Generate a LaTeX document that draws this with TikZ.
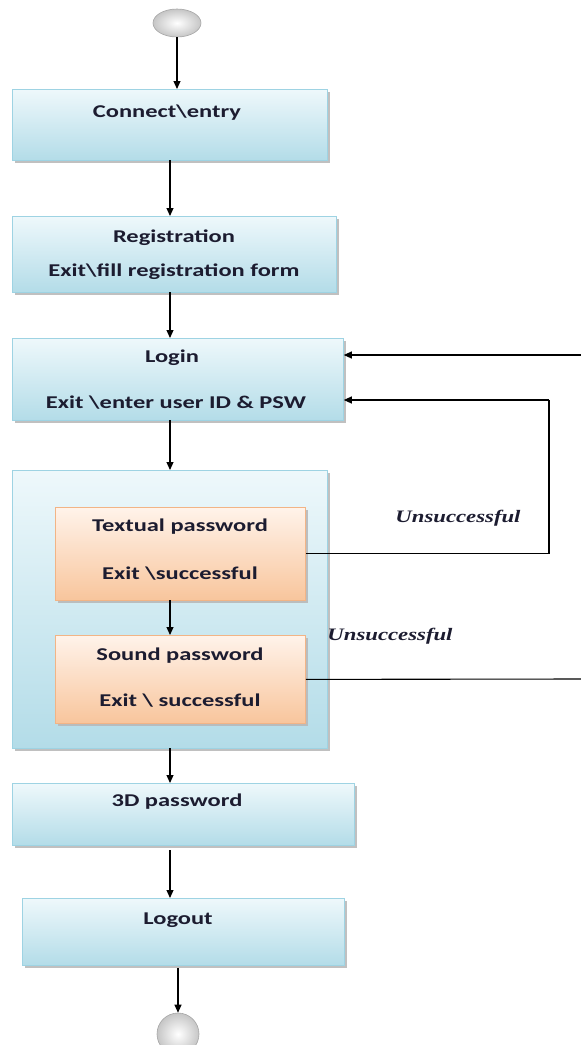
\documentclass[tikz,border=0pt]{standalone}
\usepackage{fontspec}
\setmainfont{Carlito}
\newfontfamily\boxfont{Carlito}[FakeStretch=1.36]
\newfontfamily\unsfont{Liberation Serif}[FakeStretch=1.3]
\usetikzlibrary{arrows.meta,shadows,calc,shapes.geometric}
\definecolor{bluetop}{HTML}{EEF8FB}
\definecolor{bluebot}{HTML}{B3DCE8}
\definecolor{blueedge}{HTML}{9ED3E3}
\definecolor{orgtop}{HTML}{FFF3EA}
\definecolor{orgbot}{HTML}{F8C59C}
\definecolor{orgedge}{HTML}{F2B486}
\definecolor{txt}{HTML}{1C1C30}
\tikzset{
  bluebox/.style={draw=blueedge, line width=0.8pt, top color=bluetop, bottom color=bluebot,
    anchor=north west, inner sep=0pt,
    drop shadow={shadow xshift=2.5pt, shadow yshift=-2.5pt, fill=gray!55, opacity=0.9}},
  orgbox/.style={draw=orgedge, line width=0.8pt, top color=orgtop, bottom color=orgbot,
    anchor=north west, inner sep=0pt,
    drop shadow={shadow xshift=2.5pt, shadow yshift=-2.5pt, fill=gray!55, opacity=0.9}},
  lbl/.style={font=\boxfont\bfseries\fontsize{18}{20}\selectfont, text=txt, inner sep=0pt},
  unsucc/.style={font=\unsfont\bfseries\itshape\fontsize{17.5}{19}\selectfont, text=txt, inner sep=0pt},
  arr/.style={line width=1.1pt, -{Triangle[length=8pt,width=7pt]}},
  ln/.style={line width=1.1pt},
  term/.style={draw=gray!70, line width=0.6pt, inner color=white, outer color=gray!45, inner sep=0pt}
}
\begin{document}
\begin{tikzpicture}[x=1pt,y=-1pt]
\useasboundingbox (0,0) rectangle (581,1045);
% terminals
\node[term, ellipse, minimum width=48pt, minimum height=28pt] (s) at (177,23) {};
\node[term, circle, minimum size=42pt] (e) at (178,1034) {};
% boxes
\node[bluebox, minimum width=315pt, minimum height=71pt] (b1) at (12,89) {};
\node[lbl] (t1) at (167,113) {Connect\textbackslash entry};
\node[bluebox, minimum width=324pt, minimum height=76pt] (b2) at (12,216) {};
\node[lbl] (t2a) at (174,238) {Registration};
\node[lbl] (t2b) at (174,272) {Exit\textbackslash fill registration form};
\node[bluebox, minimum width=331pt, minimum height=82pt] (b3) at (12,338) {};
\node[lbl] (t3a) at (172,358) {Login};
\node[lbl] (t3b) at (176,403) {Exit \textbackslash enter user ID \& PSW};
\node[bluebox, minimum width=315pt, minimum height=278pt] (b4) at (12,470) {};
\node[orgbox, minimum width=250pt, minimum height=93pt] (tp) at (55,507) {};
\node[lbl] (tpa) at (180,527) {Textual password};
\node[lbl] (tpb) at (180,574) {Exit \textbackslash successful};
\node[orgbox, minimum width=250pt, minimum height=88pt] (sp) at (55,635) {};
\node[lbl] (spa) at (180,656) {Sound password};
\node[lbl] (spb) at (180,701) {Exit \textbackslash{} successful};
\node[bluebox, minimum width=342pt, minimum height=62pt] (b5) at (12,783) {};
\node[lbl] (t5) at (177,802) {3D password};
\node[bluebox, minimum width=322pt, minimum height=67pt] (b6) at (22,898) {};
\node[lbl] (t6) at (178,920) {Logout};
% labels
\node[unsucc] (u1) at (458,518) {Unsuccessful};
\node[unsucc] (u2) at (390,636) {Unsuccessful};
% coordinates
\coordinate (r1) at (581,355);
\coordinate (r2) at (549,400);
\coordinate (r3) at (581,679);
% connectors
\draw[arr] (s.south) -- (s.south |- b1.north);
\draw[arr] (170,160) -- (170,216);
\draw[arr] (170,292) -- (170,338);
\draw[arr] (170,420) -- (170,470);
\draw[arr] (170,600) -- (170,635);
\draw[arr] (170,748) -- (170,783);
\draw[arr] (170,850) -- (170,898);
\draw[arr] (178,968) -- (e.north);
\draw[arr] (r1) -- (b3.east |- r1);
\draw[ln] (tp.east) -| (r2);
\draw[arr] (r2) -- (b3.east |- r2);
\draw[ln] (sp.east) -- (r3);
\end{tikzpicture}
\end{document}
